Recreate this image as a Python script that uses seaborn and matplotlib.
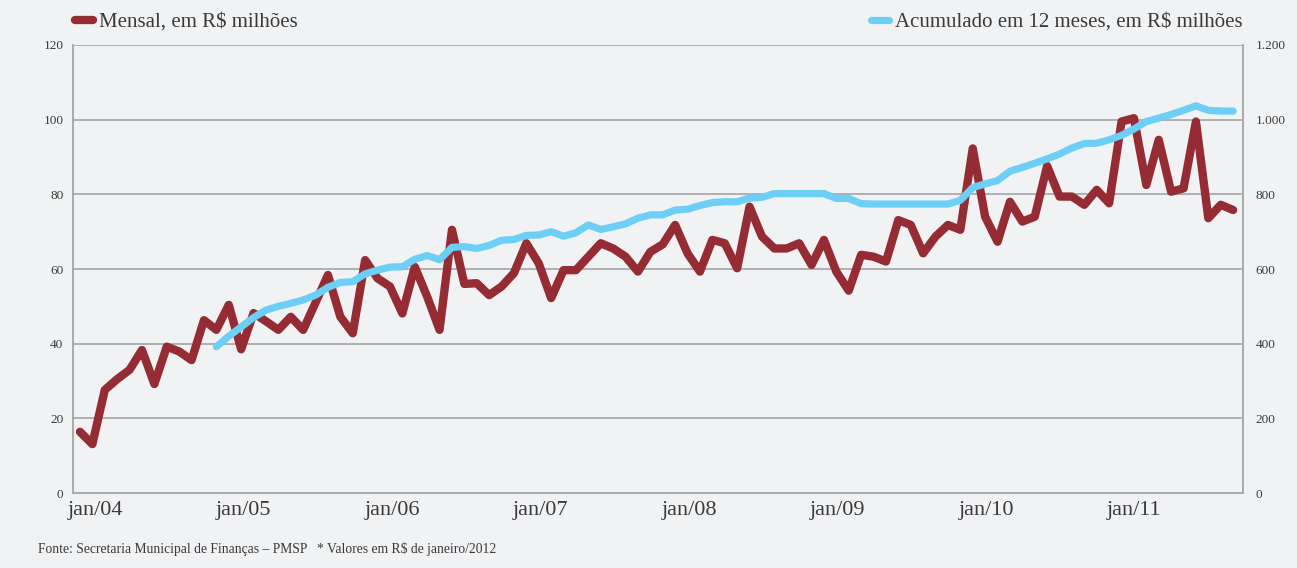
import matplotlib
matplotlib.use("Agg")
import matplotlib.pyplot as plt
import matplotlib.ticker as mticker
import matplotlib.transforms as mtransforms
from matplotlib.lines import Line2D
import numpy as np
import pandas as pd
import seaborn as sns

# monthly collection, R$ millions (first point jan/04)
mensal = [
    16.4, 13.1, 27.6, 30.5, 33.0, 38.3, 29.2, 39.2, 37.9, 35.6, 46.3, 43.7,
    50.4, 38.5, 48.2, 46.0, 43.7, 47.2, 43.7, 51.0, 58.4, 47.2, 42.8, 62.4,
    57.5, 55.3, 48.1, 60.6, 52.6, 43.7, 70.5, 56.0, 56.2, 53.0, 55.3, 58.9,
    66.9, 61.5, 52.2, 59.7, 59.7, 63.3, 66.9, 65.5, 63.3, 59.3, 64.6, 66.6,
    71.8, 64.2, 59.3, 67.8, 66.9, 60.2, 76.7, 68.7, 65.5, 65.5, 66.9, 61.1,
    67.8, 59.3, 54.2, 63.8, 63.3, 62.0, 73.1, 71.8, 64.2, 68.7, 71.8, 70.5,
    92.3, 74.0, 67.3, 78.0, 72.7, 74.0, 87.6, 79.4, 79.4, 77.2, 81.2, 77.6,
    99.5, 100.4, 82.5, 94.6, 80.7, 81.6, 99.5, 73.6, 77.2, 75.8,
]

# 12-month accumulated, R$ millions, starts at the 12th month
acum_start = 11
acumulado = [
    392, 420, 445, 470, 490, 500, 508, 517, 530, 551, 564, 566,
    587, 597, 605, 606, 626, 636, 625, 658, 660, 655, 663, 677,
    679, 690, 691, 700, 688, 697, 718, 706, 713, 721, 736, 745,
    745, 758, 760, 770, 778, 780, 780, 790, 792, 802, 802, 802,
    802, 802, 789, 789, 775, 774, 774, 774, 774, 774, 774, 774,
    784, 818, 828, 837, 862, 872, 883, 895, 908, 924, 936, 937,
    946, 958, 975, 995, 1004, 1014, 1025, 1037, 1025, 1023, 1023,
]

tick_labels = ["jan/04", "jan/05", "jan/06", "jan/07",
               "jan/08", "jan/09", "jan/10", "jan/11"]
tick_pos = 0.93 + 11.97 * np.arange(len(tick_labels))

RED = "#952b33"
BLUE = "#6dcff6"
BG = "#f1f2f4"
GRID = "#a9abae"
TXT = "#3a3a3a"

df_m = pd.DataFrame({"mes": np.arange(len(mensal)), "valor": mensal})
df_a = pd.DataFrame({"mes": np.arange(acum_start, acum_start + len(acumulado)),
                     "valor": acumulado})

sns.set_theme(style="white")
plt.rcParams["font.family"] = ["Liberation Serif", "DejaVu Serif"]

fig = plt.figure(figsize=(12.97, 5.68), dpi=100, facecolor=BG)
ax = fig.add_axes([0.0563, 0.132, 0.9021, 0.7888])
ax.set_facecolor(BG)
ax2 = ax.twinx()

sns.lineplot(data=df_m, x="mes", y="valor", ax=ax, color=RED, lw=6.0,
             solid_capstyle="round", solid_joinstyle="round", zorder=3)
sns.lineplot(data=df_a, x="mes", y="valor", ax=ax2, color=BLUE, lw=5.2,
             solid_capstyle="round", solid_joinstyle="round", zorder=3)

ax.set_ylim(0, 120)
ax2.set_ylim(0, 1200)
ax.set_xlim(-0.56, 93.8)
ax.set_yticks(range(0, 121, 20))
ax2.set_yticks(range(0, 1201, 200))
ax2.yaxis.set_major_formatter(
    mticker.FuncFormatter(lambda v, p: f"{int(v):,}".replace(",", ".")))

ax.grid(axis="y", color=GRID, lw=1.3)
ax.grid(axis="x", visible=False)
ax.set_axisbelow(True)
ax2.grid(False)

ax.set_xticks(tick_pos)
ax.set_xticklabels(tick_labels)
ax.tick_params(axis="x", direction="in", length=9.5, width=1, color=GRID,
               labelsize=16, labelcolor=TXT, pad=6)
ax.tick_params(axis="y", length=0, labelsize=9.5, labelcolor=TXT, pad=7)
ax2.tick_params(axis="y", length=0, labelsize=9.5, labelcolor=TXT, pad=9)

# the month labels sit a few pixels right of their tick marks
shift = mtransforms.ScaledTranslation(4 / 100, 0, fig.dpi_scale_trans)
for lab in ax.get_xticklabels():
    lab.set_transform(lab.get_transform() + shift)

for a in (ax, ax2):
    a.set_xlabel("")
    a.set_ylabel("")
    a.spines["top"].set_visible(False)
    for s in ("left", "right", "bottom"):
        a.spines[s].set_color(GRID)
        a.spines[s].set_linewidth(1.3)

h_red = Line2D([], [], color=RED, lw=6.0, solid_capstyle="round")
h_blue = Line2D([], [], color=BLUE, lw=5.2, solid_capstyle="round")
leg1 = fig.legend([h_red], ["Mensal, em R$ milhões"], loc="center left",
                  bbox_to_anchor=(0.058, 0.961), frameon=False, fontsize=15,
                  handlelength=0.85, handletextpad=0.3, borderpad=0,
                  borderaxespad=0, labelcolor=TXT)
leg2 = fig.legend([h_blue], ["Acumulado em 12 meses, em R$ milhões"],
                  loc="center right", bbox_to_anchor=(0.958, 0.961),
                  frameon=False, fontsize=15, handlelength=0.85,
                  handletextpad=0.3, borderpad=0, borderaxespad=0,
                  labelcolor=TXT)

fig.text(0.029, 0.033,
         "Fonte: Secretaria Municipal de Finanças – PMSP   * Valores em R$ de janeiro/2012",
         fontsize=9.8, color=TXT, va="center")

fig.savefig("out.png", dpi=100, facecolor=BG)
